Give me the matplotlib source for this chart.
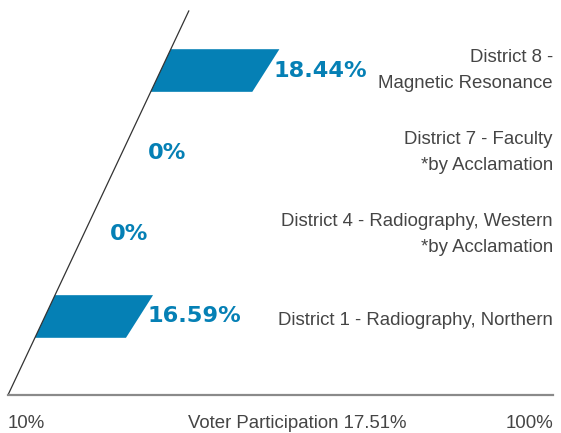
import matplotlib
matplotlib.use("Agg")
import matplotlib.pyplot as plt
from matplotlib.patches import Polygon

# data, bottom row first
districts = ["District 1 - Radiography, Northern",
             "District 4 - Radiography, Western\n*by Acclamation",
             "District 7 - Faculty\n*by Acclamation",
             "District 8 -\nMagnetic Resonance"]
participation = [16.59, 0, 0, 18.44]
value_labels = ["16.59%", "0%", "0%", "18.44%"]
axis_labels = ["10%", "Voter Participation 17.51%", "100%"]

BLUE = "#0580b5"
GREY_TXT = "#454545"

# layout: x in px-like units, y in row units (82 px per row)
x_base = 8.0
slant = 38.6        # x shift per row unit along the slanted axis
y_base = -0.957
y_top = 3.726
x_end = 553.0
bar_scale = 5.7
half_h = 0.26


def line_x(y):
    return x_base + slant * (y - y_base)


fig = plt.figure(figsize=(5.61, 4.33), dpi=100)
ax = fig.add_axes([0, 0, 1, 1])
ax.set_xlim(0, 561)
ax.set_ylim(-1.421, 3.860)
ax.axis("off")

# slanted axis + baseline
ax.plot([line_x(y_base), line_x(y_top)], [y_base, y_top], color="#333333", lw=0.9)
ax.plot([x_base, x_end], [y_base, y_base], color="#8a8a8a", lw=1.6)

for i, (name, v, lab) in enumerate(zip(districts, participation, value_labels)):
    w = v * bar_scale
    y0, y1 = i - half_h, i + half_h
    if v > 0:
        pts = [(line_x(y0), y0), (line_x(y0) + w - 3.5, y0),
               (line_x(y1) + w + 3.5, y1), (line_x(y1), y1)]
        ax.add_patch(Polygon(pts, closed=True, facecolor=BLUE, edgecolor="none"))
        tx = line_x(i) + w + 8
    else:
        tx = line_x(i) + 26
    ax.text(tx, i, lab, color=BLUE, fontsize=16.2, fontweight="bold",
            family="DejaVu Sans", ha="left", va="center")
    ty = i if "\n" in name else i - 0.05
    ax.text(x_end, ty, name, color=GREY_TXT, fontsize=13.4, family="Liberation Sans",
            ha="right", va="center", multialignment="right", linespacing=1.75)

yb = -1.31
ax.text(x_base, yb, axis_labels[0], color=GREY_TXT, fontsize=13.4,
        family="Liberation Sans", ha="left", va="center")
ax.text(188, yb, axis_labels[1], color=GREY_TXT, fontsize=13.4,
        family="Liberation Sans", ha="left", va="center")
ax.text(x_end, yb, axis_labels[2], color=GREY_TXT, fontsize=13.4,
        family="Liberation Sans", ha="right", va="center")

fig.savefig("out.png", dpi=100)
